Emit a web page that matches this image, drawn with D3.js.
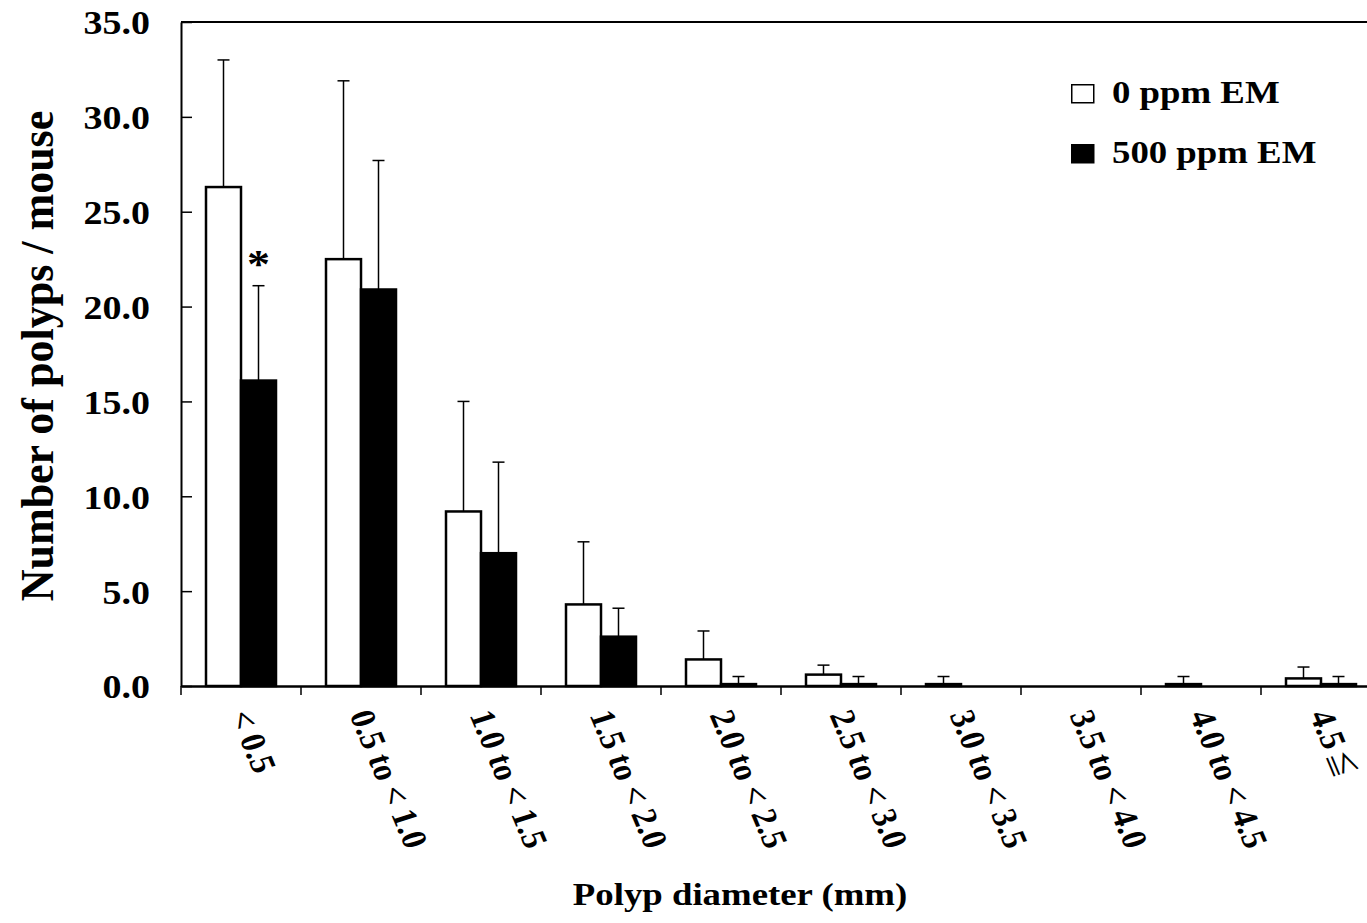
<!DOCTYPE html>
<html>
<head>
<meta charset="utf-8">
<script src="https://cdn.jsdelivr.net/npm/d3@7"></script>
<style>
  body { margin: 0; background: #fff; overflow: hidden; }
  text { font-family: "Liberation Serif", "Times New Roman", serif; font-weight: bold; fill: #000; }
</style>
</head>
<body>
<div id="chart"></div>
<script>
const categories = ['< 0.5', '0.5 to < 1.0', '1.0 to < 1.5', '1.5 to < 2.0', '2.0 to < 2.5',
    '2.5 to < 3.0', '3.0 to < 3.5', '3.5 to < 4.0', '4.0 to < 4.5', '4.5 \u2266'];
const series = ['0 ppm EM', '500 ppm EM'];
const control = [26.3, 22.5, 9.2, 4.3, 1.4, 0.6, 0.1, 0, 0.1, 0.4];
const controlSD = [6.7, 9.4, 5.8, 3.3, 1.5, 0.5, 0.4, 0, 0.4, 0.6];
const treated = [16.1, 20.9, 7.0, 2.6, 0.1, 0.1, 0, 0, 0, 0.1];
const treatedSD = [5.0, 6.8, 4.8, 1.5, 0.4, 0.4, 0, 0, 0, 0.4];
const yTicks = [0, 5, 10, 15, 20, 25, 30, 35];

const W = 1367, H = 923;
const plotLeft = 181, plotTop = 22, plotBottom = 686, plotRight = 1381;
const sx = 1.15; // text in the picture is a little wide

const svg = d3.select('#chart').append('svg')
    .attr('width', W)
    .attr('height', H);

const x0 = d3.scaleBand().domain(categories).range([plotLeft, plotRight]);
const x1 = d3.scaleBand().domain(series).range([25, 95]);
const y = d3.scaleLinear().domain([0, 35]).range([plotBottom, plotTop]);

// top border of plot area
svg.append('line')
    .attr('x1', plotLeft).attr('x2', plotRight)
    .attr('y1', plotTop).attr('y2', plotTop)
    .attr('stroke', '#000').attr('stroke-width', 2);

// bars
const rows = categories.map((c, i) => ({
    cat: c,
    vals: [
        { s: series[0], v: control[i], sd: controlSD[i] },
        { s: series[1], v: treated[i], sd: treatedSD[i] }
    ]
}));

const groups = svg.selectAll('.grp')
    .data(rows)
    .enter().append('g')
    .attr('class', 'grp')
    .attr('transform', d => 'translate(' + x0(d.cat) + ',0)');

const bars = groups.selectAll('.bar')
    .data(d => d.vals.filter(v => v.v > 0))
    .enter();

bars.append('line')
    .attr('x1', d => x1(d.s) + x1.bandwidth() / 2)
    .attr('x2', d => x1(d.s) + x1.bandwidth() / 2)
    .attr('y1', d => y(d.v))
    .attr('y2', d => y(d.v + d.sd))
    .attr('stroke', '#000').attr('stroke-width', 1.5);

bars.append('line')
    .attr('x1', d => x1(d.s) + x1.bandwidth() / 2 - 6)
    .attr('x2', d => x1(d.s) + x1.bandwidth() / 2 + 6)
    .attr('y1', d => y(d.v + d.sd))
    .attr('y2', d => y(d.v + d.sd))
    .attr('stroke', '#000').attr('stroke-width', 1.5);

bars.append('rect')
    .attr('x', d => x1(d.s))
    .attr('y', d => y(d.v))
    .attr('width', x1.bandwidth())
    .attr('height', d => y(0) - y(d.v))
    .attr('fill', d => d.s === series[0] ? '#fff' : '#000')
    .attr('stroke', '#000')
    .attr('stroke-width', 2.5);

// significance mark
svg.append('text')
    .attr('transform', 'translate(' + (x0(categories[0]) + x1(series[1]) + x1.bandwidth() / 2) + ',' + (y(treated[0] + treatedSD[0]) - 9) + ') scale(' + sx + ',1)')
    .attr('text-anchor', 'middle')
    .attr('font-size', 40)
    .text('*');

// y axis
const yAxis = d3.axisLeft(y)
    .tickValues(yTicks)
    .tickFormat(d3.format('.1f'))
    .tickSizeInner(-11)
    .tickSizeOuter(0)
    .tickPadding(31);

const gy = svg.append('g')
    .attr('transform', 'translate(' + plotLeft + ',0)')
    .call(yAxis);
gy.select('.domain').attr('stroke-width', 2);
gy.selectAll('.tick line').attr('stroke-width', 1.5);
gy.selectAll('.tick text')
    .attr('x', null)
    .attr('transform', 'translate(-31,0) scale(' + sx + ',1)')
    .attr('dy', '0.36em')
    .style('font-family', '"Liberation Serif", serif')
    .style('font-weight', 'bold')
    .attr('font-size', 33);

// x axis
const xAxis = d3.axisBottom(x0).tickSize(0).tickFormat('').tickSizeOuter(0);
const gx = svg.append('g')
    .attr('transform', 'translate(0,' + plotBottom + ')')
    .call(xAxis);
gx.select('.domain').attr('stroke-width', 2.5);

const edges = categories.map(c => x0(c)).concat([plotRight]);
gx.selectAll('.edge')
    .data(edges)
    .enter().append('line')
    .attr('x1', d => d).attr('x2', d => d)
    .attr('y1', 0).attr('y2', 9)
    .attr('stroke', '#000').attr('stroke-width', 1.5);

const catText = svg.selectAll('.catlabel')
    .data(categories)
    .enter().append('text')
    .attr('class', 'catlabel')
    .attr('transform', d => 'translate(' + (x0(d) + x0.bandwidth() / 2) + ',711) scale(' + sx + ',1) rotate(70)')
    .attr('dy', '0.35em')
    .attr('font-size', 31);

catText.append('tspan')
    .text(d => d.replace(' \u2266', ''));
catText.filter(d => d.indexOf('\u2266') >= 0)
    .append('tspan')
    .attr('dx', 4)
    .attr('font-size', 26)
    .style('font-family', '"Noto Sans CJK JP", sans-serif')
    .style('font-weight', 'normal')
    .text('\u2266');

// axis titles
svg.append('text')
    .attr('transform', 'translate(740,905) scale(' + sx + ',1)')
    .attr('text-anchor', 'middle')
    .attr('font-size', 32)
    .text('Polyp diameter (mm)');

svg.append('text')
    .attr('transform', 'translate(37,356) scale(1.05,1) rotate(-90)')
    .attr('text-anchor', 'middle')
    .attr('dy', '0.35em')
    .attr('font-size', 44)
    .text('Number of polyps / mouse');

// legend
const legend = svg.selectAll('.leg')
    .data(series)
    .enter().append('g')
    .attr('transform', (d, i) => 'translate(1071,' + (84 + i * 60) + ')');

legend.append('rect')
    .attr('x', 0.75).attr('y', 0.75)
    .attr('width', 22).attr('height', 18)
    .attr('fill', (d, i) => i === 0 ? '#fff' : '#000')
    .attr('stroke', '#000').attr('stroke-width', 1.5);

legend.append('text')
    .attr('transform', 'translate(41,19) scale(' + sx + ',1)')
    .attr('font-size', 32)
    .text(d => d);
</script>
</body>
</html>
